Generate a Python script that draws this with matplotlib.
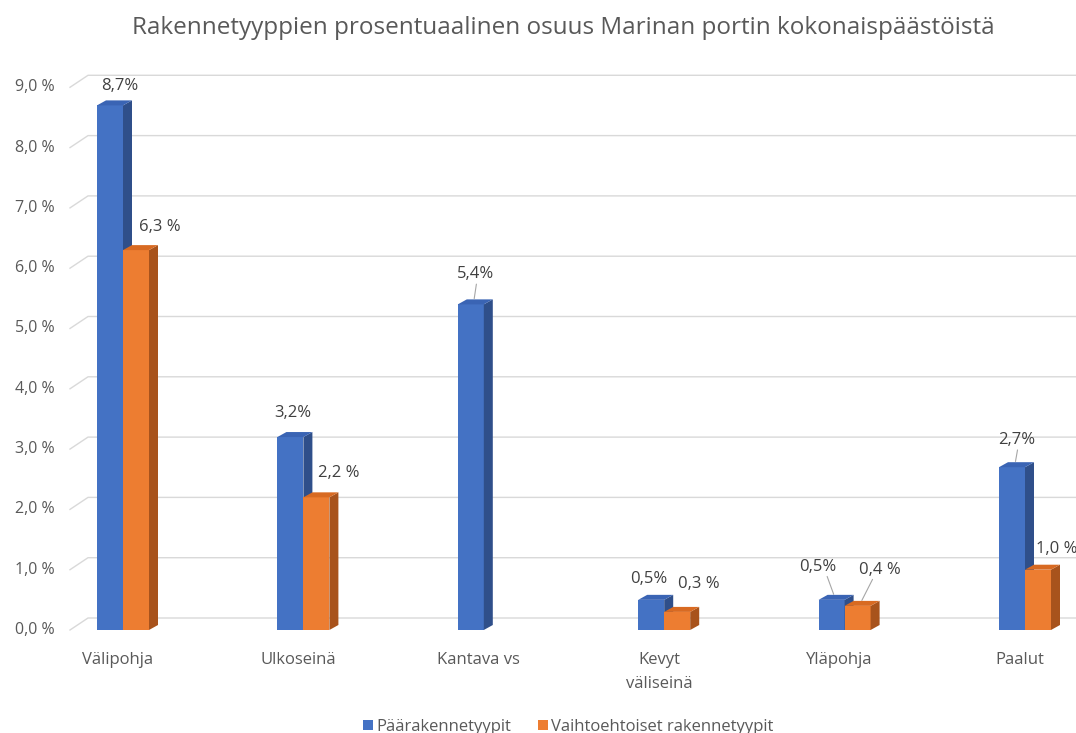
import matplotlib
matplotlib.use("Agg")
import matplotlib.pyplot as plt
from matplotlib.patches import Polygon, Patch

plt.rcParams['font.family'] = ['Open Sans', 'DejaVu Sans']

categories = ["Välipohja", "Ulkoseinä", "Kantava vs", "Kevyt\nväliseinä", "Yläpohja", "Paalut"]
paa = [8.7, 3.2, 5.4, 0.5, 0.5, 2.7]
vaiht = [6.3, 2.2, None, 0.3, 0.4, 1.0]
paa_labels = ["8,7%", "3,2%", "5,4%", "0,5%", "0,5%", "2,7%"]
vaiht_labels = ["6,3 %", "2,2 %", None, "0,3 %", "0,4 %", "1,0 %"]
yticks = [0, 1, 2, 3, 4, 5, 6, 7, 8, 9]
ytick_labels = ["0,0 %", "1,0 %", "2,0 %", "3,0 %", "4,0 %", "5,0 %", "6,0 %", "7,0 %", "8,0 %", "9,0 %"]

# label offsets in pixels from bar top centre, and whether a leader line is drawn
paa_off = [(10, 19, False), (2, 24, False), (5, 30, True), (-2, 21, False), (-14, 33, True), (5, 27, True)]
vaiht_off = [(24, 23, False), (22, 24, False), None, (22, 28, False), (22, 36, True), (19, 21, False)]

blue, blue_side, blue_top = "#4472C4", "#2F4F8A", "#3A64B4"
orange, orange_side, orange_top = "#ED7D31", "#A8531C", "#D86A22"
grey = "#595959"

W, H = 1076, 733
fig = plt.figure(figsize=(W / 100, H / 100), dpi=100)

ax_left, ax_right, ax_bottom, ax_top = 70, 1076, 630, 87.3
ax = fig.add_axes([ax_left / W, 1 - ax_bottom / H, (ax_right - ax_left) / W, (ax_bottom - ax_top) / H])
ax.set_axis_off()

px_per_x = 180.4
px_per_y = (ax_bottom - ax_top) / 9
x0 = (ax_left - 123) / px_per_x
x1 = (ax_right - 123) / px_per_x
ax.set_xlim(x0, x1)
ax.set_ylim(0, 9)

# back wall gridlines
gdx, gdy = 18 / px_per_x, 12 / px_per_y
for t in yticks:
    ax.plot([x0, x0 + gdx, x1], [t, t + gdy, t + gdy], color="#D9D9D9", lw=1, clip_on=False, zorder=1)
    ax.text(x0 - 15 / px_per_x, t, ytick_labels[t], ha="right", va="center", fontsize=11.5, color=grey)

bw = 26 / px_per_x
ddx, ddy = 9 / px_per_x, 5 / px_per_y


def bar3d(xc, h, front, side, top, z):
    l, r = xc - bw / 2, xc + bw / 2
    ax.bar(xc, h, width=bw, color=front, zorder=z, linewidth=0)
    ax.add_patch(Polygon([(r, 0), (r + ddx, ddy), (r + ddx, h + ddy), (r, h)], closed=True,
                         facecolor=side, edgecolor="none", zorder=z))
    ax.add_patch(Polygon([(l, h), (l + ddx, h + ddy), (r + ddx, h + ddy), (r, h)], closed=True,
                         facecolor=top, edgecolor="none", zorder=z))


def label(xc, h, text, off):
    dx, dy, leader = off
    ax.annotate(text, xy=(xc, h), xytext=(dx, dy), textcoords="offset pixels",
                ha="center", va="center", fontsize=12, color="#404040", zorder=10,
                annotation_clip=False)
    if leader:
        ax.annotate("", xy=(xc + 3 / px_per_x, h + 3 / px_per_y), xytext=(dx * 0.6, dy - 10),
                    textcoords="offset pixels",
                    arrowprops=dict(arrowstyle="-", color="#A6A6A6", lw=0.8), zorder=10)


for i, cat in enumerate(categories):
    xb = i - bw / 2
    xo = i + bw / 2
    bar3d(xb, paa[i], blue, blue_side, blue_top, 3 + i * 2)
    label(xb, paa[i], paa_labels[i], paa_off[i])
    if vaiht[i] is not None:
        bar3d(xo, vaiht[i], orange, orange_side, orange_top, 4 + i * 2)
        label(xo, vaiht[i], vaiht_labels[i], vaiht_off[i])
    ax.text(i - 5 / px_per_x, -22 / px_per_y, cat, ha="center", va="top", fontsize=12,
            color=grey, linespacing=1.65)

fig.text(563 / W, 1 - 28 / H, "Rakennetyyppien prosentuaalinen osuus Marinan portin kokonaispäästöistä",
         ha="center", va="center", fontsize=17.5, color=grey)

handles = [Patch(facecolor=blue, label="Päärakennetyypit"),
           Patch(facecolor=orange, label="Vaihtoehtoiset rakennetyypit")]
fig.legend(handles=handles, loc="center", bbox_to_anchor=(568 / W, 1 - 727 / H), ncol=2,
           frameon=False, fontsize=12, labelcolor=grey, handlelength=0.6, handleheight=0.6,
           handletextpad=0.2, columnspacing=1.6)

fig.savefig("out.png", dpi=100)
